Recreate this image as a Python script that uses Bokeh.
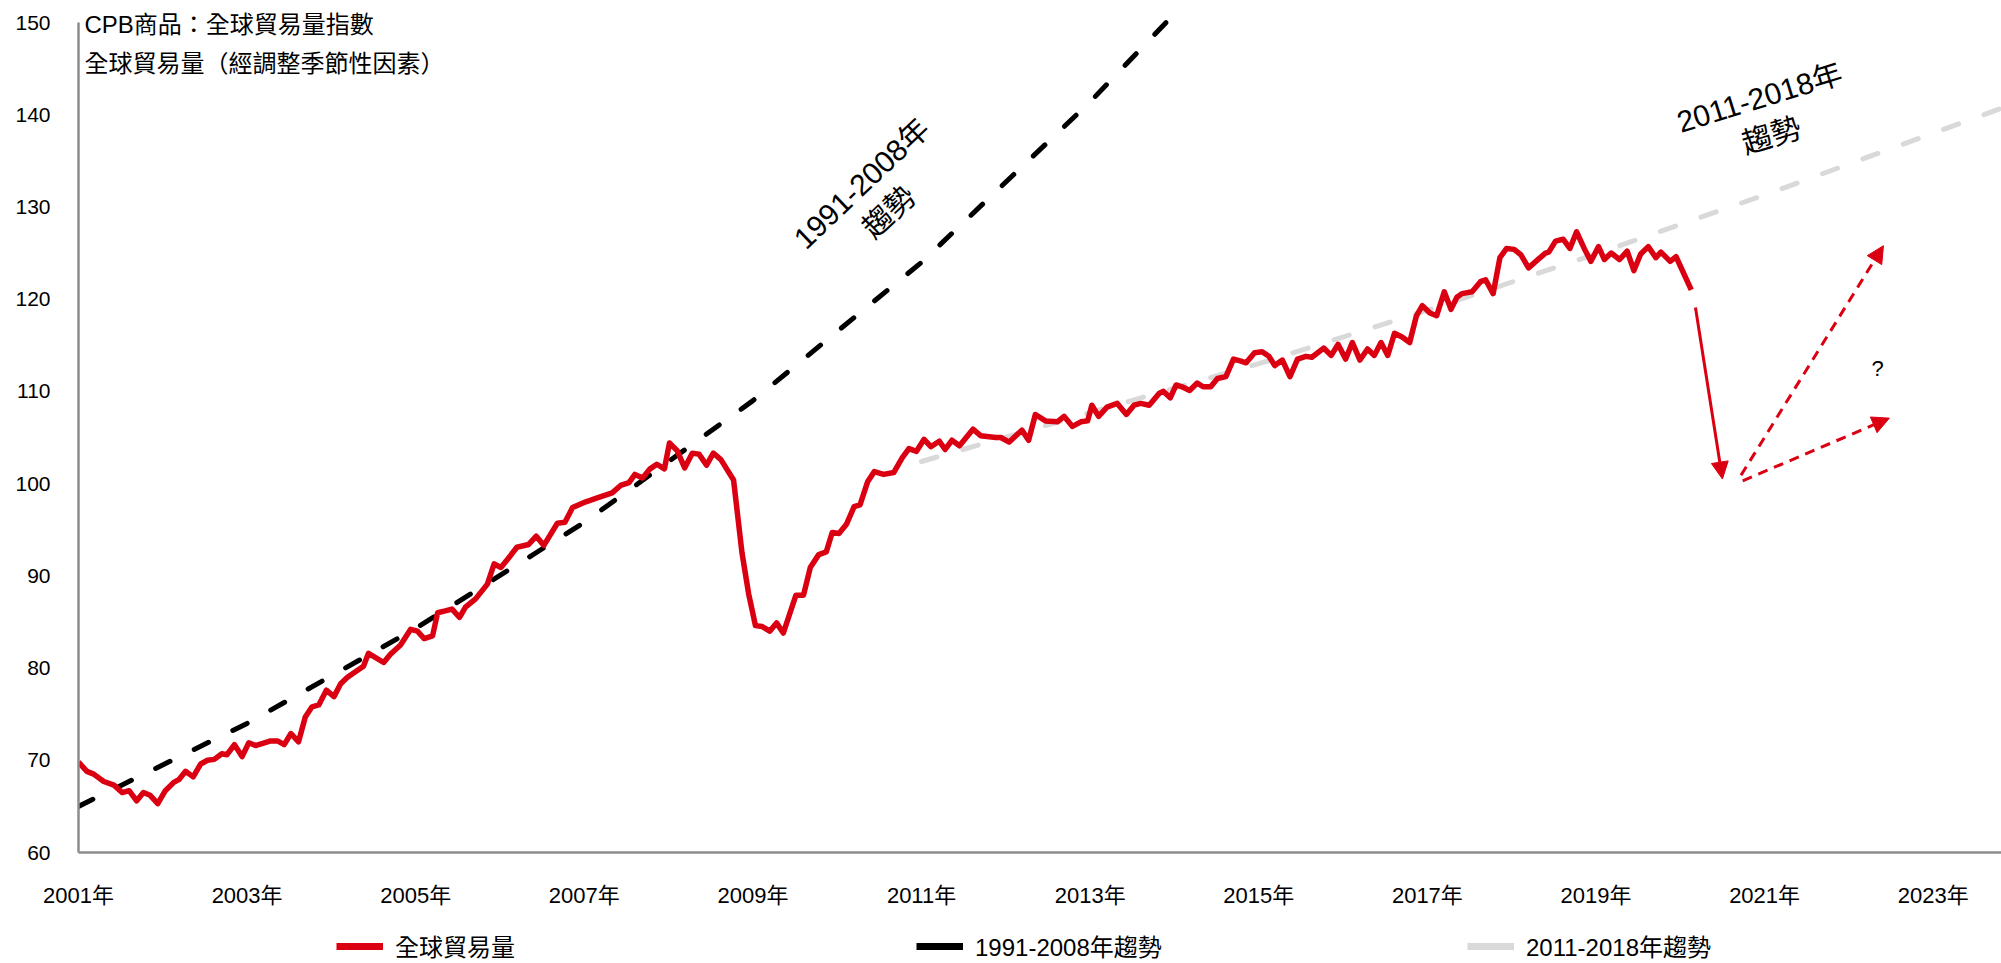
from bokeh.plotting import figure
from bokeh.layouts import column
from bokeh.models import (Range1d, FixedTicker, Legend, LegendItem, Label,
                          Arrow, NormalHead)
from bokeh.embed import file_html
from bokeh.resources import INLINE

FONT = "'Liberation Sans', Arial, 'Noto Sans CJK TC', sans-serif"
RED = "#DB0011"
BLACK = "#000000"
GREY = "#D9D9D9"
AXIS = "#8C8C8C"

# CPB world trade volume index (seasonally adjusted)
trade_year = [
    2001.00, 2001.10, 2001.18, 2001.30, 2001.42, 2001.52, 2001.60, 2001.69,
    2001.77, 2001.85, 2001.94, 2002.03, 2002.13, 2002.19, 2002.27, 2002.36,
    2002.45, 2002.53, 2002.61, 2002.70, 2002.76, 2002.85, 2002.94, 2003.02,
    2003.10, 2003.28, 2003.36, 2003.44, 2003.52, 2003.61, 2003.69, 2003.77,
    2003.85, 2003.94, 2004.03, 2004.11, 2004.19, 2004.38, 2004.44, 2004.62,
    2004.70, 2004.82, 2004.94, 2005.02, 2005.10, 2005.20, 2005.26, 2005.35,
    2005.43, 2005.52, 2005.59, 2005.71, 2005.85, 2005.93, 2006.01, 2006.09,
    2006.20, 2006.34, 2006.43, 2006.52, 2006.68, 2006.77, 2006.86, 2007.01,
    2007.17, 2007.33, 2007.43, 2007.53, 2007.60, 2007.69, 2007.78, 2007.86,
    2007.95, 2008.01, 2008.10, 2008.19, 2008.28, 2008.36, 2008.45, 2008.53,
    2008.62, 2008.77, 2008.87, 2008.95, 2009.03, 2009.11, 2009.20, 2009.28,
    2009.36, 2009.51, 2009.60, 2009.68, 2009.78, 2009.87, 2009.94, 2010.02,
    2010.11, 2010.20, 2010.27, 2010.36, 2010.44, 2010.55, 2010.67, 2010.77,
    2010.85, 2010.94, 2011.03, 2011.11, 2011.21, 2011.28, 2011.36, 2011.45,
    2011.53, 2011.61, 2011.70, 2011.88, 2011.94, 2012.04, 2012.19, 2012.27,
    2012.35, 2012.47, 2012.61, 2012.69, 2012.79, 2012.89, 2012.97, 2013.02,
    2013.10, 2013.20, 2013.32, 2013.43, 2013.52, 2013.60, 2013.70, 2013.82,
    2013.87, 2013.95, 2014.02, 2014.09, 2014.18, 2014.27, 2014.34, 2014.43,
    2014.51, 2014.61, 2014.70, 2014.78, 2014.85, 2014.95, 2015.04, 2015.12,
    2015.19, 2015.28, 2015.37, 2015.46, 2015.56, 2015.63, 2015.77, 2015.86,
    2015.94, 2016.03, 2016.11, 2016.20, 2016.29, 2016.37, 2016.45, 2016.53,
    2016.61, 2016.70, 2016.79, 2016.87, 2016.94, 2017.03, 2017.11, 2017.20,
    2017.28, 2017.35, 2017.41, 2017.53, 2017.63, 2017.69, 2017.78, 2017.86,
    2017.94, 2018.03, 2018.11, 2018.20, 2018.30, 2018.40, 2018.44, 2018.52,
    2018.61, 2018.69, 2018.77, 2018.86, 2018.94, 2019.03, 2019.10, 2019.18,
    2019.28, 2019.37, 2019.45, 2019.53, 2019.62, 2019.71, 2019.77, 2019.88,
    2019.95, 2020.13,
]
trade_index = [
    69.8, 68.8, 68.5, 67.7, 67.3, 66.5, 66.7, 65.6,
    66.5, 66.2, 65.3, 66.7, 67.6, 67.9, 68.8, 68.2,
    69.6, 70.0, 70.1, 70.7, 70.6, 71.7, 70.4, 71.9,
    71.6, 72.1, 72.1, 71.7, 72.9, 72.0, 74.7, 75.8,
    76.0, 77.6, 76.9, 78.3, 79.0, 80.2, 81.6, 80.6,
    81.5, 82.5, 84.2, 84.0, 83.2, 83.5, 86.0, 86.2,
    86.4, 85.5, 86.6, 87.5, 89.1, 91.3, 90.9, 91.8,
    93.1, 93.4, 94.3, 93.3, 95.7, 95.8, 97.4, 98.0,
    98.5, 99.0, 99.8, 100.1, 101.0, 100.6, 101.6, 102.1,
    101.6, 104.4, 103.6, 101.7, 103.3, 103.2, 102.0, 103.3,
    102.6, 100.4, 92.5, 88.0, 84.6, 84.5, 84.0, 84.9,
    83.8, 87.9, 87.9, 90.9, 92.3, 92.6, 94.7, 94.6,
    95.6, 97.5, 97.7, 100.2, 101.3, 101.0, 101.2, 102.8,
    103.8, 103.5, 104.8, 104.0, 104.6, 103.7, 104.7, 104.1,
    105.0, 105.9, 105.2, 105.0, 105.0, 104.5, 105.8, 104.7,
    107.5, 106.8, 106.7, 107.3, 106.2, 106.7, 106.8, 108.5,
    107.3, 108.3, 108.7, 107.5, 108.5, 108.7, 108.5, 109.8,
    110.0, 109.3, 110.7, 110.5, 110.1, 110.9, 110.5, 110.5,
    111.4, 111.6, 113.5, 113.3, 113.1, 114.2, 114.3, 113.8,
    112.8, 113.4, 111.6, 113.5, 113.8, 113.7, 114.7, 113.9,
    115.1, 113.5, 115.3, 113.4, 114.6, 113.9, 115.3, 113.9,
    116.3, 115.9, 115.3, 118.2, 119.3, 118.5, 118.2, 120.8,
    118.9, 120.2, 120.6, 120.8, 121.9, 122.1, 120.6, 124.5,
    125.5, 125.4, 124.8, 123.4, 124.2, 125.0, 125.1, 126.3,
    126.5, 125.5, 127.3, 125.5, 124.1, 125.7, 124.3, 125.0,
    124.3, 125.2, 123.1, 124.9, 125.7, 124.5, 125.1, 124.1,
    124.6, 121.0,
]

# 1991-2008 trend extended forward
trend_9108_year = [2001.0, 2003.0, 2005.0, 2007.0, 2009.0, 2011.0, 2013.0, 2013.9]
trend_9108_index = [65.0, 74.0, 84.3, 95.8, 109.0, 124.0, 141.4, 150.0]

# 2011-2018 trend extended forward
trend_1118_year = [2011.0, 2013.0, 2015.0, 2017.0, 2019.0, 2021.0, 2023.0, 2023.81]
trend_1118_index = [102.4, 107.7, 113.0, 118.8, 124.9, 131.3, 138.0, 140.7]

# scenario arrows: (year_start, index_start, year_end, index_end)
drop_arrow = (2020.18, 119.1, 2020.50, 100.5)
scenario_arrows = [
    (2020.72, 100.9, 2022.41, 125.8),
    (2020.74, 100.3, 2022.48, 107.1),
]

x_tick_years = [2001, 2003, 2005, 2007, 2009, 2011, 2013, 2015, 2017, 2019, 2021, 2023]
x_tick_labels = ["2001年", "2003年", "2005年", "2007年", "2009年", "2011年",
                 "2013年", "2015年", "2017年", "2019年", "2021年", "2023年"]
y_ticks = [60, 70, 80, 90, 100, 110, 120, 130, 140, 150]

series_names = ["全球貿易量", "1991-2008年趨勢", "2011-2018年趨勢"]

# y runs a little past 150 so the heading above the top tick has room;
# the axis line itself stops at 150
y_top = 150 + 22 * 90 / 830

p = figure(width=2001, height=922, output_backend="svg", toolbar_location=None,
           x_range=Range1d(2001.0, 2023.81), y_range=Range1d(60, y_top),
           min_border_left=78, min_border_right=0, min_border_top=0,
           min_border_bottom=70)
p.outline_line_color = None
p.background_fill_color = "white"
p.border_fill_color = "white"
p.xgrid.grid_line_color = None
p.ygrid.grid_line_color = None

for ax in (p.xaxis[0], p.yaxis[0]):
    ax.axis_line_color = AXIS
    ax.axis_line_width = 2.5
    ax.major_tick_line_color = None
    ax.minor_tick_line_color = None
    ax.major_label_text_font = FONT
    ax.major_label_text_font_size = "21px"
    ax.major_label_text_color = "#000000"

p.xaxis.ticker = FixedTicker(ticks=x_tick_years)
p.xaxis.major_label_overrides = {yr: lbl for yr, lbl in zip(x_tick_years, x_tick_labels)}
p.xaxis.major_label_standoff = 24
p.xaxis.major_label_text_font_size = "22px"
p.yaxis.ticker = FixedTicker(ticks=y_ticks)
p.yaxis.bounds = (60, 150)
p.yaxis.major_label_standoff = 22

# trend lines
p.line(trend_9108_year, trend_9108_index, line_color=BLACK, line_width=5,
       line_dash="16 27", line_cap="round")
p.line(trend_1118_year, trend_1118_index, line_color=GREY, line_width=5,
       line_dash="16 27", line_cap="round")

# trade volume
p.line(trade_year, trade_index, line_color=RED, line_width=5.5, line_join="round")

# scenario arrows
x0, y0, x1, y1 = drop_arrow
p.add_layout(Arrow(x_start=x0, y_start=y0, x_end=x1, y_end=y1,
                   line_color=RED, line_width=3,
                   end=NormalHead(size=17, fill_color=RED, line_color=RED)))
for x0, y0, x1, y1 in scenario_arrows:
    p.add_layout(Arrow(x_start=x0, y_start=y0, x_end=x1, y_end=y1,
                       line_color=RED, line_width=3, line_dash="10 7",
                       end=NormalHead(size=17, fill_color=RED, line_color=RED)))

p.add_layout(Label(x=2022.34, y=112.5, text="?", text_font=FONT,
                   text_font_size="22px", text_align="center",
                   text_baseline="middle", text_color="#000000"))

# trend captions
p.add_layout(Label(x=2010.45, y=131.0, text="1991-2008年\n趨勢", angle=0.76,
                   text_font=FONT, text_font_size="30px", text_align="center",
                   text_baseline="middle", text_color="#000000",
                   text_line_height=1.2))
p.add_layout(Label(x=2021.01, y=139.8, text="2011-2018年\n趨勢", angle=0.30,
                   text_font=FONT, text_font_size="30px", text_align="center",
                   text_baseline="middle", text_color="#000000",
                   text_line_height=1.2))

# chart headings
p.add_layout(Label(x=2001.07, y=149.8, text="CPB商品：全球貿易量指數",
                   text_font=FONT, text_font_size="24px", text_align="left",
                   text_baseline="middle", text_color="#000000"))
p.add_layout(Label(x=2001.07, y=145.6, text="全球貿易量（經調整季節性因素）",
                   text_font=FONT, text_font_size="24px", text_align="left",
                   text_baseline="middle", text_color="#000000"))

# legend strip beneath the chart (its frame lines up with the chart frame)
leg = figure(width=2001, height=41, output_backend="svg", toolbar_location=None,
             x_range=Range1d(0, 1923), y_range=Range1d(0, 41),
             x_axis_location=None, y_axis_location=None,
             min_border_left=78, min_border_right=0, min_border_top=0,
             min_border_bottom=0)
leg.outline_line_color = None
leg.background_fill_color = "white"
leg.border_fill_color = "white"
leg.xgrid.visible = False
leg.ygrid.visible = False

nan = float("nan")
sw_red = leg.line([nan], [nan], line_color=RED, line_width=7)
sw_black = leg.line([nan], [nan], line_color=BLACK, line_width=7)
sw_grey = leg.line([nan], [nan], line_color=GREY, line_width=7)

for rend, name, left in zip([sw_red, sw_black, sw_grey], series_names, [258, 838, 1389]):
    lg = Legend(items=[LegendItem(label=name, renderers=[rend])],
                location=(left, 0), orientation="horizontal",
                padding=0, margin=0, spacing=0,
                border_line_color=None, background_fill_alpha=0,
                glyph_width=47, glyph_height=20, label_height=20,
                label_standoff=12, label_text_font=FONT,
                label_text_font_size="24px", label_text_color="#000000")
    leg.add_layout(lg, "center")

page = column(p, leg, spacing=0)

with open("out.html", "w", encoding="utf-8") as f:
    f.write(file_html(page, INLINE))
